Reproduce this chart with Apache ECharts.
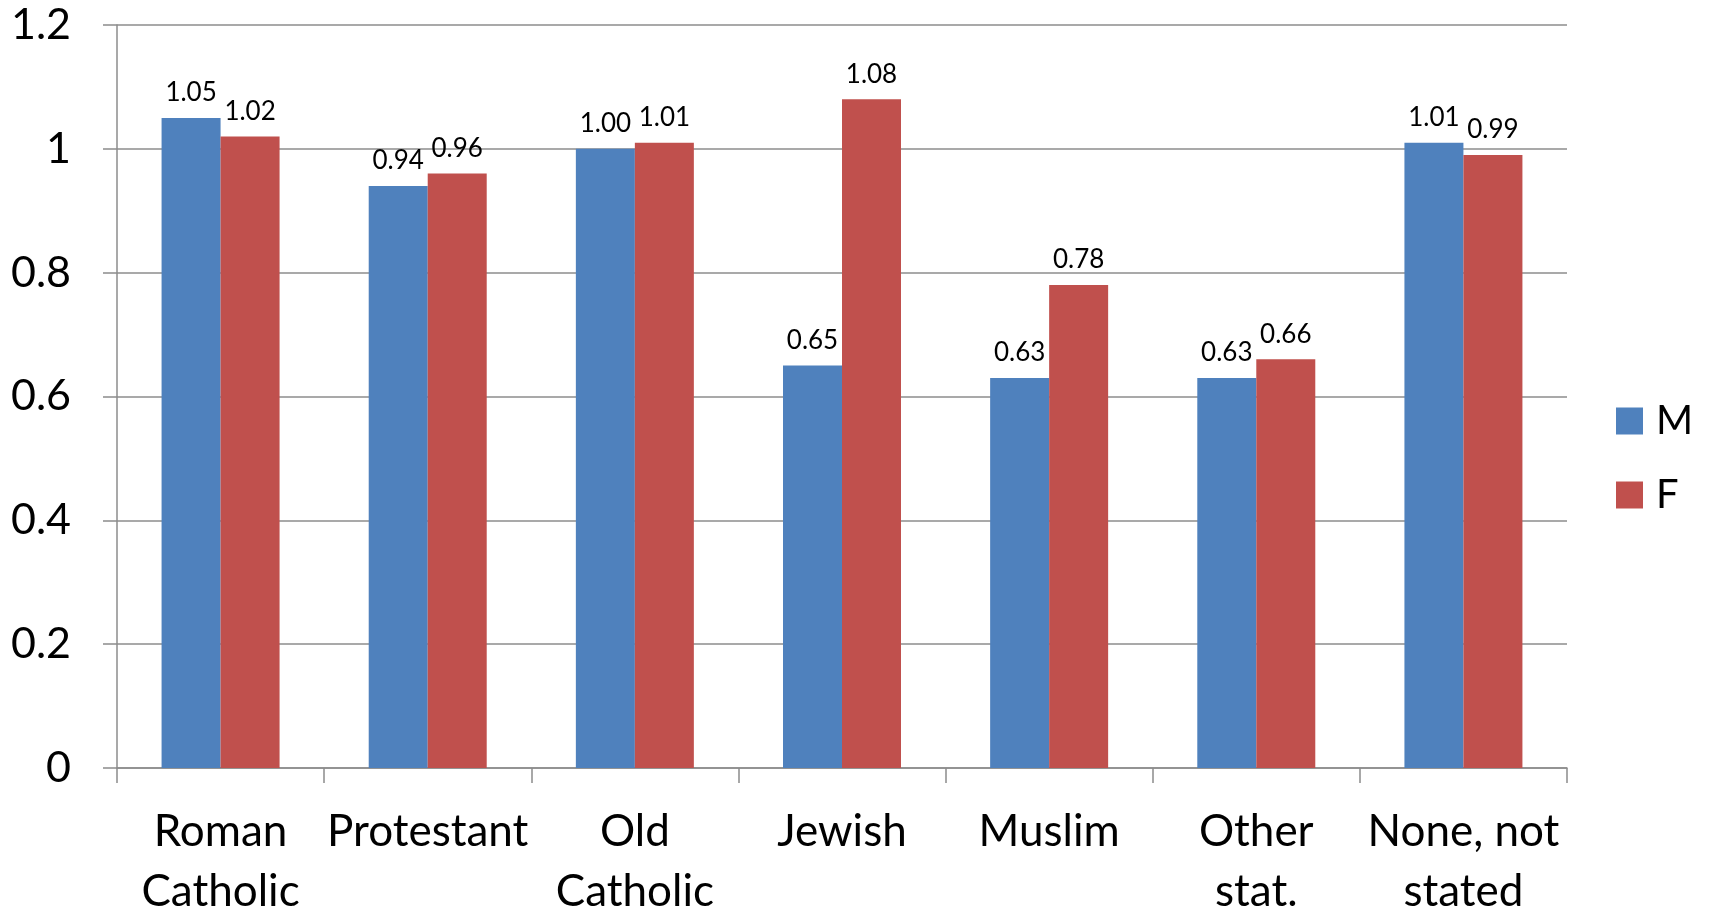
<!DOCTYPE html>
<html>
<head>
<meta charset="utf-8">
<script src="https://cdn.jsdelivr.net/npm/echarts@6/dist/echarts.min.js"></script>
<style>
  html, body { margin: 0; padding: 0; background: #fff; }
  #chart { width: 1709px; height: 908px; }
</style>
</head>
<body>
<div id="chart"></div>
<script>
// Ratio by religious denomination, male vs female
const categories = ['Roman\nCatholic', 'Protestant', 'Old\nCatholic', 'Jewish', 'Muslim', 'Other\nstat.', 'None, not\nstated'];
const maleValues = [1.05, 0.94, 1.00, 0.65, 0.63, 0.63, 1.01];
const femaleValues = [1.02, 0.96, 1.01, 1.08, 0.78, 0.66, 0.99];
const seriesNames = ['M', 'F'];

const FONT = 'Lato, "Open Sans", sans-serif';
const GRID_COLOR = '#8c8c8c';

const chart = echarts.init(document.getElementById('chart'), null, { renderer: 'canvas' });

const labelStyle = {
  show: true,
  position: 'top',
  distance: 12,
  fontFamily: FONT,
  fontSize: 26,
  color: '#000',
  formatter: p => p.value.toFixed(2)
};

chart.setOption({
  animation: false,
  backgroundColor: '#fff',
  grid: { left: 117, right: 142, top: 25, bottom: 140, containLabel: false, outerBoundsMode: 'none' },
  legend: {
    orient: 'vertical',
    left: 1616,
    top: 401,
    padding: 0,
    itemWidth: 27,
    itemHeight: 27,
    itemGap: 34,
    icon: 'rect',
    textStyle: { fontFamily: FONT, fontSize: 40, color: '#000', padding: [0, 0, 0, 8] },
    data: seriesNames
  },
  xAxis: {
    type: 'category',
    data: categories,
    axisLine: { show: true, lineStyle: { color: GRID_COLOR, width: 1.5 } },
    axisTick: { show: true, alignWithLabel: false, interval: 0, length: 15, lineStyle: { color: GRID_COLOR, width: 1.5 } },
    axisLabel: {
      interval: 0,
      fontFamily: FONT,
      fontSize: 44,
      lineHeight: 60,
      color: '#000',
      margin: 34
    }
  },
  yAxis: {
    type: 'value',
    min: 0,
    max: 1.2,
    interval: 0.2,
    axisLine: { show: true, lineStyle: { color: GRID_COLOR, width: 1.5 } },
    axisTick: { show: true, length: 14, lineStyle: { color: GRID_COLOR, width: 1.5 } },
    splitLine: { show: true, lineStyle: { color: GRID_COLOR, width: 1.5 } },
    axisLabel: {
      fontFamily: FONT,
      fontSize: 43,
      color: '#000',
      margin: 46
    }
  },
  series: [
    {
      name: seriesNames[0],
      type: 'bar',
      data: maleValues,
      barWidth: 59,
      barGap: '0%',
      itemStyle: { color: '#4F81BD' },
      label: labelStyle
    },
    {
      name: seriesNames[1],
      type: 'bar',
      data: femaleValues,
      barWidth: 59,
      barGap: '0%',
      itemStyle: { color: '#C0504D' },
      label: labelStyle
    }
  ]
});
</script>
</body>
</html>
